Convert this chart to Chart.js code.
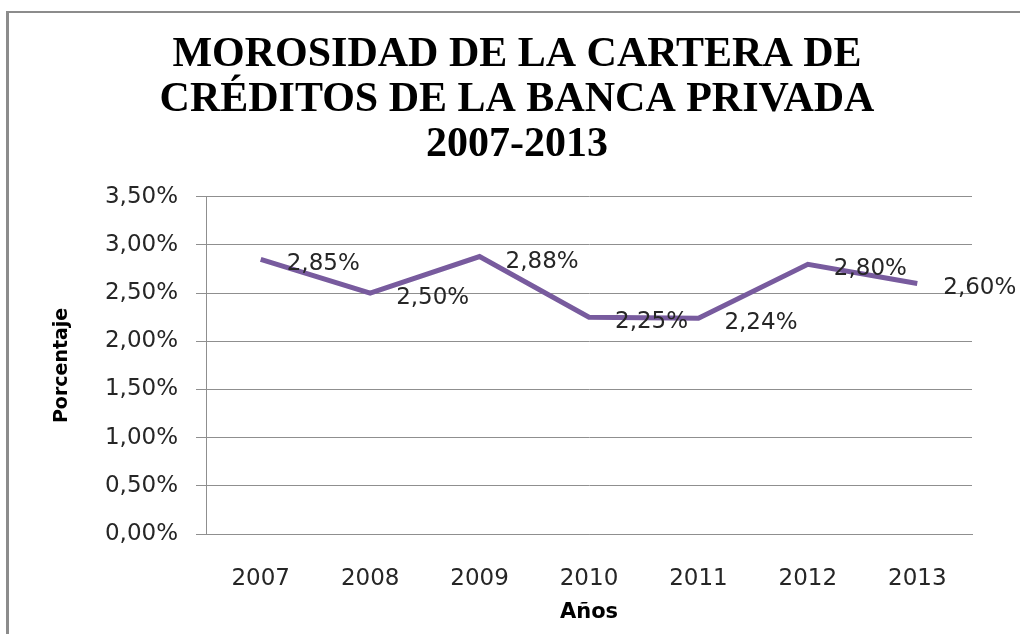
<!DOCTYPE html>
<html>
<head>
<meta charset="utf-8">
<script src="https://cdn.jsdelivr.net/npm/chart.js@4.4.1/dist/chart.umd.min.js"></script>
<style>
  html, body { margin: 0; padding: 0; background: #fff; overflow: hidden; }
  #page { position: relative; width: 1020px; height: 634px; overflow: hidden; }
  .edge { position: absolute; background: #8c8c8c; }
  #edgeLeft { left: 6px; top: 11px; width: 3px; height: 623px; }
  #edgeTop { left: 6px; top: 11px; width: 1014px; height: 2px; }
  #wrap { position: absolute; left: 0; top: 0; width: 1020px; height: 634px; }
</style>
</head>
<body>
<div id="page">
  <div class="edge" id="edgeLeft"></div>
  <div class="edge" id="edgeTop"></div>
  <div id="wrap"><canvas id="chart"></canvas></div>
</div>
<script>
// datos
const years = ['2007', '2008', '2009', '2010', '2011', '2012', '2013'];
const morosidad = [2.85, 2.50, 2.88, 2.25, 2.24, 2.80, 2.60];
const titleLines = ['MOROSIDAD DE LA CARTERA DE', 'CRÉDITOS DE LA BANCA PRIVADA', '2007-2013'];

const fmt = v => v.toFixed(2).replace('.', ',') + '%';
const textColor = '#262626';
const gridColor = '#8f8f8f';

// etiquetas de datos a la derecha de cada punto
const pointLabels = {
    id: 'pointLabels',
    afterDatasetsDraw(chart) {
        const ctx = chart.ctx;
        const meta = chart.getDatasetMeta(0);
        ctx.save();
        ctx.font = '23px "DejaVu Sans"';
        ctx.fillStyle = textColor;
        ctx.textAlign = 'left';
        ctx.textBaseline = 'middle';
        meta.data.forEach((pt, i) => {
            ctx.fillText(fmt(morosidad[i]), pt.x + 26, pt.y + 5);
        });
        ctx.restore();
    }
};

new Chart(document.getElementById('chart'), {
    type: 'line',
    data: {
        labels: years,
        datasets: [{
            data: morosidad,
            borderColor: '#785b9e',
            borderWidth: 5,
            pointRadius: 0,
            tension: 0,
            fill: false
        }]
    },
    options: {
        responsive: true,
        maintainAspectRatio: false,
        animation: false,
        layout: { padding: { left: 62, right: 48, top: 0, bottom: 0 } },
        plugins: {
            legend: { display: false },
            tooltip: { enabled: false },
            title: {
                display: true,
                text: titleLines,
                color: '#000',
                font: { family: '"Liberation Serif"', size: 42, weight: 'bold', lineHeight: 1.07 },
                padding: { top: 33, bottom: 29 }
            }
        },
        scales: {
            x: {
                offset: true,
                grid: { display: false, drawTicks: false },
                border: { display: true, color: gridColor, width: 1 },
                ticks: {
                    color: textColor,
                    font: { family: '"DejaVu Sans"', size: 23 },
                    padding: 31
                },
                title: {
                    display: true,
                    text: 'Años',
                    color: '#000',
                    font: { family: '"DejaVu Sans"', size: 21, weight: 'bold', lineHeight: 1.2 },
                    padding: { top: 0, bottom: 9 }
                },
                afterFit: s => { s.height = 100; }
            },
            y: {
                min: 0,
                max: 3.5,
                ticks: {
                    stepSize: 0.5,
                    color: textColor,
                    font: { family: '"DejaVu Sans"', size: 23 },
                    padding: 18,
                    callback: v => fmt(v)
                },
                grid: { color: gridColor, lineWidth: 1, drawTicks: true, tickLength: 10 },
                border: { display: true, color: gridColor, width: 1 },
                title: {
                    display: true,
                    text: 'Porcentaje',
                    color: '#000',
                    font: { family: '"DejaVu Sans"', size: 19, weight: 'bold', lineHeight: 1.2 },
                    padding: { top: -11, bottom: 0 }
                },
                afterFit: s => { s.width = 144; }
            }
        }
    },
    plugins: [pointLabels]
});
</script>
</body>
</html>
